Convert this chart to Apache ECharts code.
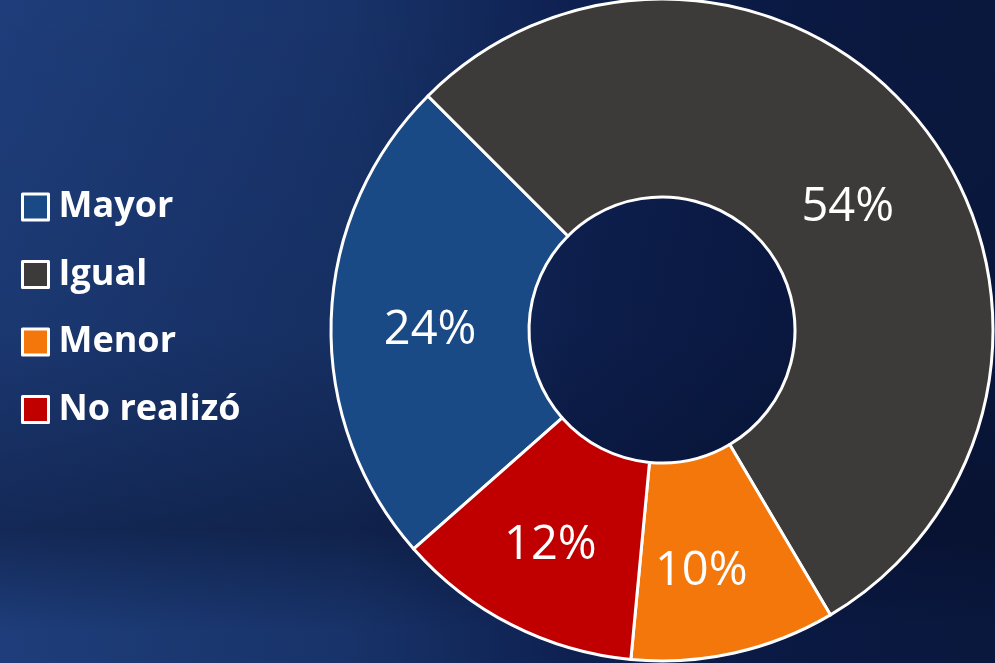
<!DOCTYPE html>
<html>
<head>
<meta charset="utf-8">
<script src="https://cdn.jsdelivr.net/npm/echarts@6/dist/echarts.min.js"></script>
<style>
  html, body { margin: 0; padding: 0; }
  #chart {
    width: 995px; height: 663px;
    background:
      linear-gradient(180deg, rgba(0,0,0,0) 0%, rgba(4,10,32,0.10) 50%, rgba(4,10,32,0.40) 80%, rgba(0,0,0,0) 95%),
      linear-gradient(90deg, #1e3d7a 0%, #183369 35%, #0e2050 58%, #0a1942 80%, #0a183e 100%);
  }
</style>
</head>
<body>
<div id="chart"></div>
<script>
const categories = ["Mayor", "Igual", "Menor", "No realizó"];
const values = [24, 54, 10, 12];
const colors = ["#1a4a85", "#3d3b3a", "#f4770c", "#c00000"];
// nudges so the value labels sit where the reference puts them
const labelPads = [[16, 0, 0, 6], [44, 0, 0, 0], [24, 24, 0, 0], [12, 10, 0, 0]];

const chart = echarts.init(document.getElementById("chart"));

const option = {
  backgroundColor: "transparent",
  legend: {
    orient: "vertical",
    left: 16,
    top: 184,
    icon: "rect",
    itemWidth: 26,
    itemHeight: 26,
    itemGap: 31.5,
    data: categories,
    itemStyle: { borderColor: "#ffffff", borderWidth: 3 },
    textStyle: {
      color: "#ffffff",
      fontSize: 36,
      fontWeight: "bold",
      fontFamily: "Open Sans",
      padding: [0, 0, 0, 5],
    },
    selectedMode: false,
  },
  series: [
    {
      type: "pie",
      center: [662, 330],
      radius: [133, 331],
      startAngle: 221.4,
      clockwise: true,
      animation: false,
      itemStyle: { borderColor: "#ffffff", borderWidth: 3 },
      label: {
        position: "inside",
        color: "#ffffff",
        fontSize: 47,
        fontFamily: "Open Sans",
        textBorderWidth: 0,
      },
      labelLine: { show: false },
      emphasis: { disabled: true },
      data: categories.map((name, i) => ({
        name,
        value: values[i],
        itemStyle: { color: colors[i] },
        label: {
          formatter: "{v|{c}%}",
          rich: {
            v: {
              color: "#ffffff",
              fontSize: 47,
              fontFamily: "Open Sans",
              padding: labelPads[i],
            },
          },
        },
      })),
    },
  ],
};

chart.setOption(option);
</script>
</body>
</html>
